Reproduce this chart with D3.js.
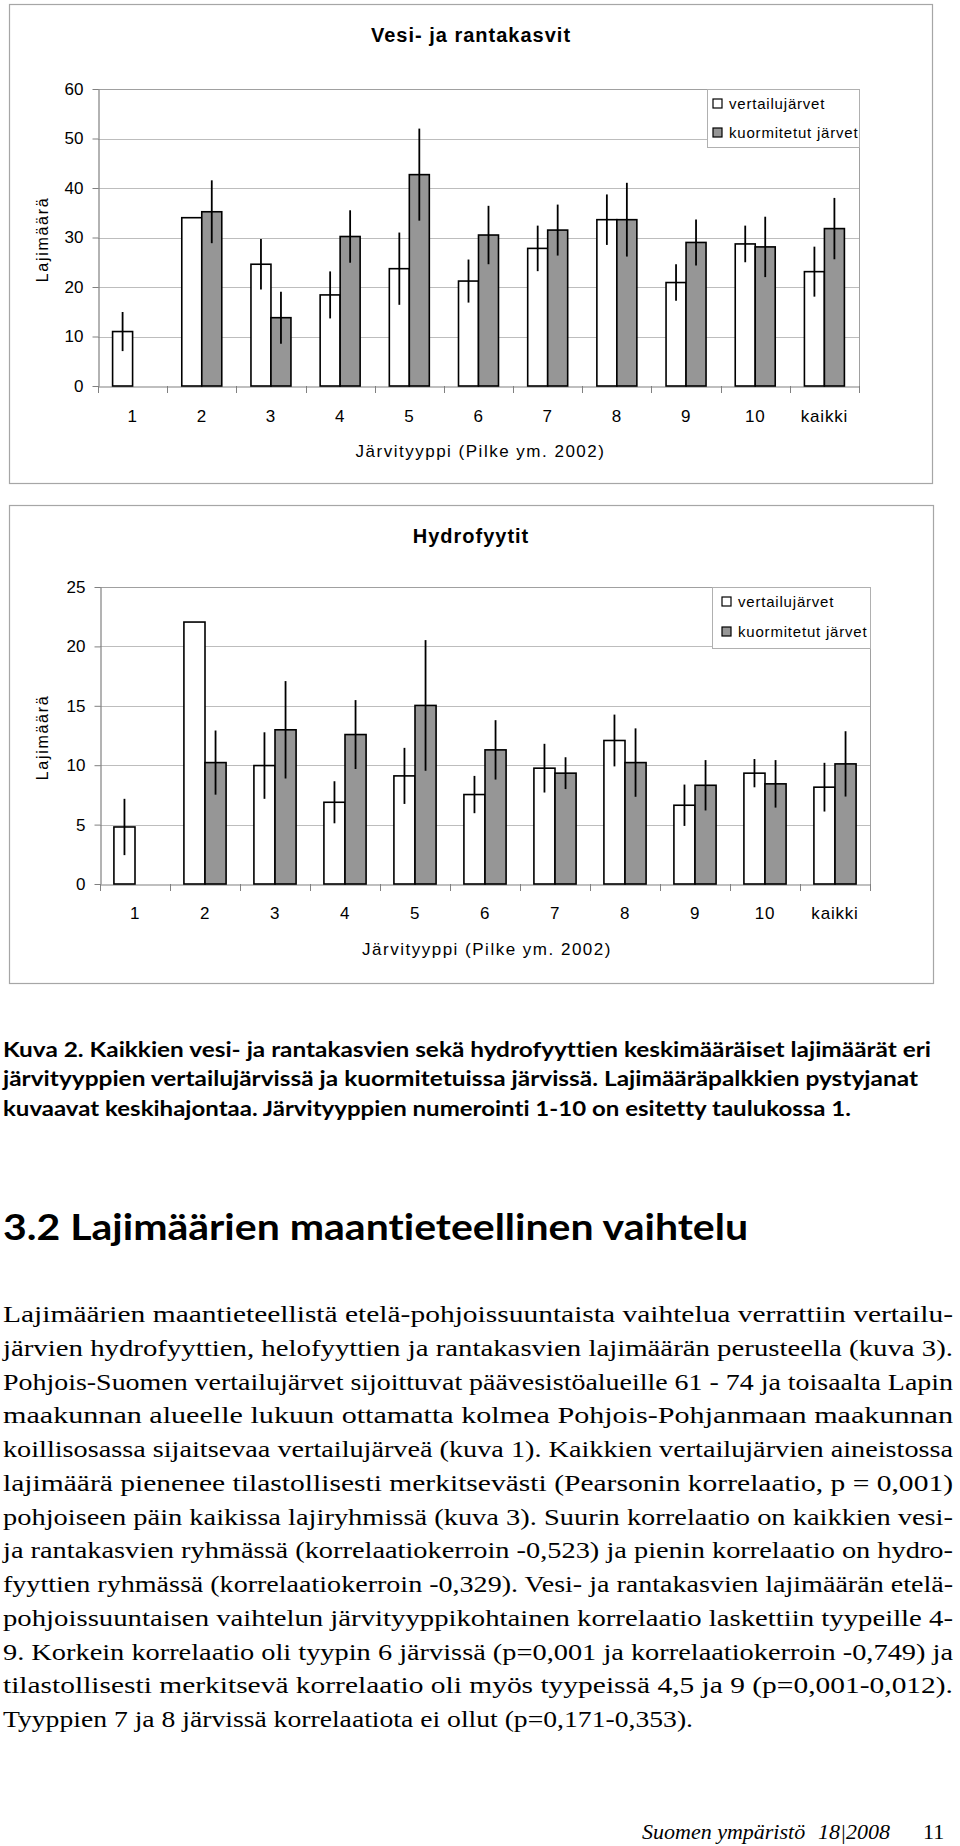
<!DOCTYPE html>
<html><head><meta charset="utf-8">
<script src="https://cdn.jsdelivr.net/npm/d3@7"></script>
<style>
body{margin:0;background:#fff}
svg{display:block}
text{font-variant-ligatures:none;font-feature-settings:"liga" 0,"clig" 0}
</style>
</head><body>
<svg id="page" width="960" height="1846"></svg>
<script>
// ---------- DATA ----------
const categories = ["1","2","3","4","5","6","7","8","9","10","kaikki"];
const seriesNames = ["vertailujärvet","kuormitetut järvet"];

// Chart 1: Vesi- ja rantakasvit
const vesiTitle = "Vesi- ja rantakasvit";
const vesiTicks = [0,10,20,30,40,50,60];
const vesiRef     = [11.0, 34.0, 24.6, 18.4, 23.7, 21.2, 27.8, 33.6, 20.9, 28.7, 23.1];
const vesiRefSd   = [3.95, null, 5.1, 4.75, 7.3, 4.35, 4.6, 5.1, 3.7, 3.7, 5.05];
const vesiLoad    = [null, 35.2, 13.8, 30.2, 42.7, 30.5, 31.5, 33.6, 29.0, 28.1, 31.8];
const vesiLoadSd  = [null, 6.35, 5.25, 5.3, 9.3, 5.9, 5.15, 7.45, 4.65, 6.1, 6.2];

// Chart 2: Hydrofyytit
const hydroTitle = "Hydrofyytit";
const hydroTicks = [0,5,10,15,20,25];
const hydroRef    = [4.8, 22.05, 9.97, 6.88, 9.1, 7.53, 9.75, 12.08, 6.63, 9.33, 8.15];
const hydroRefSd  = [2.37, null, 2.8, 1.77, 2.36, 1.57, 2.05, 2.18, 1.74, 1.19, 2.05];
const hydroLoad   = [null, 10.22, 12.98, 12.58, 15.03, 11.29, 9.33, 10.22, 8.31, 8.43, 10.11];
const hydroLoadSd = [null, 2.7, 4.1, 2.9, 5.5, 2.5, 1.34, 2.88, 2.12, 2.0, 2.75];

const yLabel = "Lajimäärä";
const xLabel = "Järvityyppi (Pilke ym. 2002)";

// Text
const captionLines = [
  "Kuva 2. Kaikkien vesi- ja rantakasvien sekä hydrofyyttien keskimääräiset lajimäärät eri",
  "järvityyppien vertailujärvissä ja kuormitetuissa järvissä. Lajimääräpalkkien pystyjanat",
  "kuvaavat keskihajontaa. Järvityyppien numerointi 1-10 on esitetty taulukossa 1."
];
const heading = "3.2 Lajimäärien maantieteellinen vaihtelu";
const paragraphLines = [
  "Lajimäärien maantieteellistä etelä-pohjoissuuntaista vaihtelua verrattiin vertailu-",
  "järvien hydrofyyttien, helofyyttien ja rantakasvien lajimäärän perusteella (kuva 3).",
  "Pohjois-Suomen vertailujärvet sijoittuvat päävesistöalueille 61 - 74 ja toisaalta Lapin",
  "maakunnan alueelle lukuun ottamatta kolmea Pohjois-Pohjanmaan maakunnan",
  "koillisosassa sijaitsevaa vertailujärveä (kuva 1). Kaikkien vertailujärvien aineistossa",
  "lajimäärä pienenee tilastollisesti merkitsevästi (Pearsonin korrelaatio, p = 0,001)",
  "pohjoiseen päin kaikissa lajiryhmissä (kuva 3). Suurin korrelaatio on kaikkien vesi-",
  "ja rantakasvien ryhmässä (korrelaatiokerroin -0,523) ja pienin korrelaatio on hydro-",
  "fyyttien ryhmässä (korrelaatiokerroin -0,329). Vesi- ja rantakasvien lajimäärän etelä-",
  "pohjoissuuntaisen vaihtelun järvityyppikohtainen korrelaatio laskettiin tyypeille 4-",
  "9. Korkein korrelaatio oli tyypin 6 järvissä (p=0,001 ja korrelaatiokerroin -0,749) ja",
  "tilastollisesti merkitsevä korrelaatio oli myös tyypeissä 4,5 ja 9 (p=0,001-0,012).",
  "Tyyppien 7 ja 8 järvissä korrelaatiota ei ollut (p=0,171-0,353)."
];
const footerLeft = "Suomen ympäristö";
const footerIssue = "18|2008";
const footerPage = "11";

// ---------- DRAW ----------
const svg = d3.select("#page");
svg.append("rect").attr("width",960).attr("height",1846).attr("fill","#fff");

const SANS = "'Liberation Sans', Arial, sans-serif";

function drawChart(cfg){
  const g = svg.append("g");
  g.append("rect")
    .attr("x", cfg.frame.x + 0.5).attr("y", cfg.frame.y + 0.5)
    .attr("width", cfg.frame.w).attr("height", cfg.frame.h)
    .attr("fill","#fff").attr("stroke","#a6a6a6").attr("stroke-width",1.2);

  const x = d3.scaleBand().domain(categories).range([cfg.plot.l, cfg.plot.r]).paddingInner(0).paddingOuter(0);
  const xs = d3.scaleBand().domain([0,1]).range([0, x.bandwidth()]).paddingInner(0).paddingOuter(cfg.barPad);
  const y = d3.scaleLinear().domain([0, d3.max(cfg.ticks)]).range([cfg.plot.b, cfg.plot.t]);

  g.append("text").attr("x", cfg.titleX).attr("y", cfg.titleY)
    .attr("text-anchor","middle").attr("font-family",SANS).attr("font-weight","bold")
    .attr("font-size",20).attr("letter-spacing",1).attr("fill","#000").text(cfg.title);

  g.append("g").selectAll("line").data(cfg.ticks.filter(t => t > 0)).join("line")
    .attr("x1", cfg.plot.l).attr("x2", cfg.plot.r)
    .attr("y1", d => Math.round(y(d)) + 0.5).attr("y2", d => Math.round(y(d)) + 0.5)
    .attr("stroke","#bdbdbd").attr("stroke-width",1);
  g.append("line").attr("x1", cfg.plot.r + 0.5).attr("x2", cfg.plot.r + 0.5)
    .attr("y1", cfg.plot.t).attr("y2", cfg.plot.b)
    .attr("stroke","#a0a0a0").attr("stroke-width",1);
  g.append("line").attr("x1", cfg.plot.l).attr("x2", cfg.plot.r)
    .attr("y1", cfg.plot.t + 0.5).attr("y2", cfg.plot.t + 0.5)
    .attr("stroke","#a0a0a0").attr("stroke-width",1);

  const yAxis = d3.axisLeft(y).tickValues(cfg.ticks).tickSize(6).tickSizeOuter(0).tickPadding(9);
  const ya = g.append("g").attr("transform", `translate(${cfg.plot.l + 0.5},0)`).call(yAxis);
  ya.select(".domain").attr("stroke","#808080").attr("stroke-width",1.2);
  ya.selectAll(".tick line").attr("stroke","#808080");
  ya.selectAll(".tick text").attr("font-family",SANS).attr("font-size",17).attr("fill","#000");

  const xAxis = d3.axisBottom(x).tickSize(0).tickPadding(cfg.catPad);
  const xa = g.append("g").attr("transform", `translate(0,${cfg.plot.b + 0.5})`).call(xAxis);
  xa.select(".domain").attr("stroke","#808080").attr("stroke-width",1.2);
  xa.selectAll(".tick text").attr("font-family",SANS).attr("font-size",17)
    .attr("letter-spacing",0.8).attr("fill","#000");
  const bounds = categories.map(c => x(c)).concat([cfg.plot.r]);
  g.append("g").selectAll("line").data(bounds).join("line")
    .attr("x1", d => Math.round(d) + 0.5).attr("x2", d => Math.round(d) + 0.5)
    .attr("y1", cfg.plot.b).attr("y2", cfg.plot.b + 7)
    .attr("stroke","#808080").attr("stroke-width",1);

  g.append("text").attr("x", (cfg.plot.l + cfg.plot.r)/2 + 2).attr("y", cfg.xTitleY)
    .attr("text-anchor","middle").attr("font-family",SANS).attr("font-size",17)
    .attr("letter-spacing",1.5).attr("fill","#000").text(xLabel);
  g.append("text")
    .attr("transform", `translate(${cfg.yLabelX},${(cfg.plot.t + cfg.plot.b)/2 + 2}) rotate(-90)`)
    .attr("text-anchor","middle").attr("dominant-baseline","central")
    .attr("font-family",SANS).attr("font-size",16).attr("letter-spacing",1.7)
    .attr("fill","#000").text(yLabel);

  const L = cfg.legend;
  g.append("rect").attr("x", L.x + 0.5).attr("y", L.y + 0.5).attr("width", L.w).attr("height", L.h)
    .attr("fill","#fff").attr("stroke","#b0b0b0").attr("stroke-width",1);
  const fills = ["#ffffff","#969696"];
  seriesNames.forEach((name, i) => {
    const base = L.y + L.first + i * L.gap;
    g.append("rect").attr("x", L.x + L.sq).attr("y", base - 10).attr("width", 9).attr("height", 9)
      .attr("fill", fills[i]).attr("stroke","#000").attr("stroke-width",1.2);
    g.append("text").attr("x", L.x + L.sq + 16).attr("y", base)
      .attr("font-family",SANS).attr("font-size",15).attr("letter-spacing",0.8)
      .attr("fill","#000").text(name);
  });

  const series = [
    {vals: cfg.ref, sd: cfg.refSd, fill: fills[0]},
    {vals: cfg.load, sd: cfg.loadSd, fill: fills[1]}
  ];
  series.forEach((s, si) => {
    const data = categories.map((c, i) => ({c, v: s.vals[i], sd: s.sd[i]})).filter(d => d.v != null);
    g.append("g").selectAll("rect").data(data).join("rect")
      .attr("x", d => x(d.c) + xs(si)).attr("y", d => y(d.v))
      .attr("width", xs.bandwidth()).attr("height", d => y(0) - y(d.v))
      .attr("fill", s.fill).attr("stroke","#000").attr("stroke-width",1.6);
    g.append("g").selectAll("line").data(data.filter(d => d.sd != null)).join("line")
      .attr("x1", d => x(d.c) + xs(si) + xs.bandwidth()/2)
      .attr("x2", d => x(d.c) + xs(si) + xs.bandwidth()/2)
      .attr("y1", d => y(d.v - d.sd)).attr("y2", d => y(d.v + d.sd))
      .attr("stroke","#000").attr("stroke-width",1.8);
  });
}

drawChart({
  title: vesiTitle, ticks: vesiTicks,
  ref: vesiRef, refSd: vesiRefSd, load: vesiLoad, loadSd: vesiLoadSd,
  frame: {x: 9, y: 4, w: 923, h: 479},
  plot: {l: 98, t: 89, r: 859, b: 386},
  barPad: 0.73, titleX: 471, titleY: 42, catPad: 23, xTitleY: 457, yLabelX: 42,
  legend: {x: 707, y: 89, w: 152, h: 58, sq: 6, first: 20, gap: 29}
});
drawChart({
  title: hydroTitle, ticks: hydroTicks,
  ref: hydroRef, refSd: hydroRefSd, load: hydroLoad, loadSd: hydroLoadSd,
  frame: {x: 9, y: 505, w: 924, h: 478},
  plot: {l: 100, t: 587, r: 870, b: 884},
  barPad: 0.66, titleX: 471, titleY: 543, catPad: 22, xTitleY: 955, yLabelX: 42,
  legend: {x: 712, y: 587, w: 158, h: 61, sq: 10, first: 20, gap: 30}
});

// ---------- TEXT ----------
const captionWidths = [928, 915, 848];
svg.append("g").selectAll("text").data(captionLines).join("text")
  .attr("x", 3).attr("y", (d, i) => 1057 + i * 29.3)
  .attr("font-family","Lato, 'Open Sans', sans-serif").attr("font-weight","bold")
  .attr("font-size",20).attr("fill","#000")
  .attr("textLength", (d, i) => captionWidths[i]).attr("lengthAdjust","spacingAndGlyphs")
  .text(d => d);

svg.append("text").attr("x", 3).attr("y", 1240)
  .attr("font-family","Lato, 'Open Sans', sans-serif").attr("font-weight","bold")
  .attr("font-size",36).attr("fill","#000")
  .attr("textLength", 745).attr("lengthAdjust","spacingAndGlyphs").text(heading);

const paraWidths = paragraphLines.map((d, i) => i < paragraphLines.length - 1 ? 950 : 690);
svg.append("g").selectAll("text").data(paragraphLines).join("text")
  .attr("x", 3).attr("y", (d, i) => 1322 + i * 33.75)
  .attr("font-family","'Liberation Serif', 'Times New Roman', serif")
  .attr("font-size",23.5).attr("fill","#000")
  .attr("textLength", (d, i) => paraWidths[i]).attr("lengthAdjust","spacingAndGlyphs")
  .text(d => d);

const foot = svg.append("text").attr("y", 1839)
  .attr("font-family","'Liberation Serif', 'Times New Roman', serif").attr("font-size",22).attr("fill","#000");
foot.append("tspan").attr("x", 642).attr("font-style","italic").text(footerLeft);
foot.append("tspan").attr("x", 818).attr("font-style","italic").text(footerIssue);
foot.append("tspan").attr("x", 923).text(footerPage);
</script>
</body></html>
